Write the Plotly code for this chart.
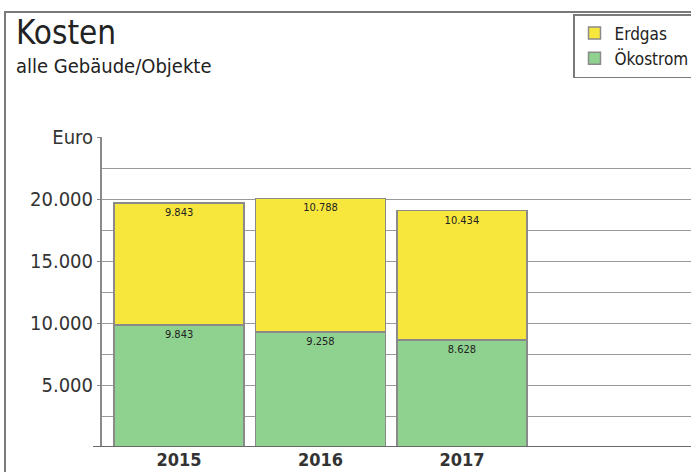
import plotly.graph_objects as go

# Daten
jahre = ["2015", "2016", "2017"]
oekostrom = [9843, 9258, 8628]
erdgas = [9843, 10788, 10434]

y_tickvals = [5000, 10000, 15000, 20000, 25000]
y_ticktext = ["5.000", "10.000", "15.000", "20.000", "Euro"]

FONT = "DejaVu Sans Condensed, DejaVu Sans, sans-serif"

# plot area in pixels
W, H = 691, 472
L, R, T, B = 102, 0, 137, 25
pw, ph = W - L - R, H - T - B


def px(x):
    return (x - L) / pw


def py(y):
    return (H - B - y) / ph


def de(v):
    return f"{v:,}".replace(",", ".")


fig = go.Figure()

fig.add_trace(go.Bar(
    x=jahre, y=oekostrom, name="Ökostrom",
    marker=dict(color="#8fd18f", line=dict(color="#8a8a8a", width=1.5)),
    text=[de(v) for v in oekostrom],
    textposition="inside", insidetextanchor="end", textangle=0,
    textfont=dict(size=11, color="#222", family=FONT),
    hoverinfo="skip",
))
fig.add_trace(go.Bar(
    x=jahre, y=erdgas, name="Erdgas",
    marker=dict(color="#f7e63c", line=dict(color="#8a8a8a", width=1.5)),
    text=[de(v) for v in erdgas],
    textposition="inside", insidetextanchor="end", textangle=0,
    textfont=dict(size=11, color="#222", family=FONT),
    hoverinfo="skip",
))

# outer frame
fig.add_shape(type="rect", xref="paper", yref="paper",
              x0=px(5), y0=py(H + 20), x1=px(W + 20), y1=py(12),
              line=dict(color="#7a7a7a", width=2), layer="below")

fig.add_annotation(text="Kosten", xref="paper", yref="paper",
                   x=px(14), y=py(32), xanchor="left", yanchor="middle",
                   showarrow=False, font=dict(size=33, color="#222", family=FONT))
fig.add_annotation(text="alle Gebäude/Objekte", xref="paper", yref="paper",
                   x=px(14), y=py(66), xanchor="left", yanchor="middle",
                   showarrow=False, font=dict(size=20, color="#222", family=FONT))

fig.update_layout(
    width=W, height=H,
    margin=dict(l=L, r=R, t=T, b=B, autoexpand=False),
    barmode="stack", bargap=0.08,
    plot_bgcolor="white", paper_bgcolor="white",
    legend=dict(
        x=px(573), y=py(14), xanchor="left", yanchor="top",
        traceorder="reversed", bgcolor="white",
        bordercolor="#7a7a7a", borderwidth=1.5,
        font=dict(size=17, color="#222", family=FONT),
        itemclick=False,
    ),
    xaxis=dict(
        range=[-0.545, 3.62], showgrid=False, zeroline=False,
        showline=False, ticks="", automargin=False,
        tickfont=dict(size=18, color="#333", family=FONT, weight="bold"),
    ),
    yaxis=dict(
        range=[0, 25000], tickvals=y_tickvals, ticktext=y_ticktext,
        showgrid=True, gridcolor="#9a9a9a", gridwidth=1,
        minor=dict(dtick=2500, showgrid=True, gridcolor="#9a9a9a", gridwidth=1),
        showline=True, linecolor="#8a8a8a", linewidth=2,
        ticks="outside", ticklen=3, tickcolor="#8a8a8a",
        zeroline=False, automargin=False,
        tickfont=dict(size=20, color="#333", family=FONT),
    ),
)

# x axis base line
fig.add_shape(type="line", xref="paper", yref="y",
              x0=px(93), x1=1, y0=0, y1=0,
              line=dict(color="#6a6a6a", width=2))

fig.write_html("out.html", config={"displayModeBar": False},
               post_script="document.body.style.margin='0';")
